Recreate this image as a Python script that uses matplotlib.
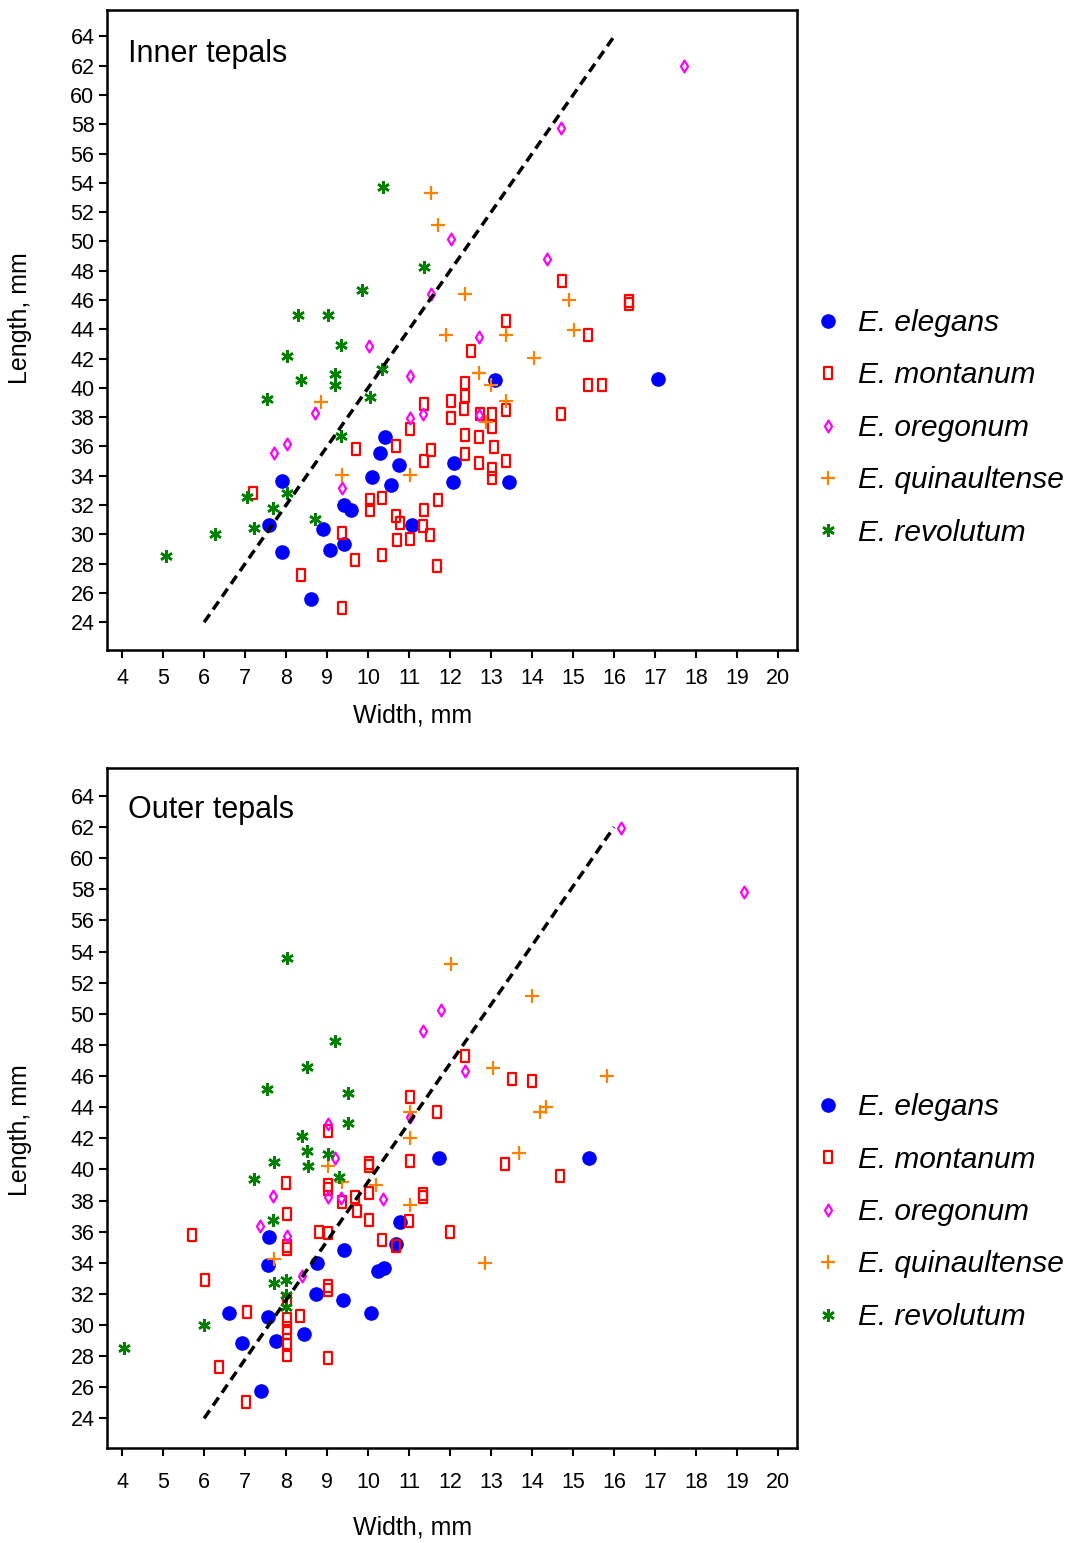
import numpy as np
import matplotlib.pyplot as plt
from matplotlib.path import Path

# ---- inner tepals (width, length) ----
in_elegans_x = [10.41, 10.28, 12.09, 10.75, 10.1, 10.57, 12.07, 7.9, 9.42, 9.59, 7.59, 8.91, 11.07, 9.42, 9.08, 7.9, 8.6, 13.1, 17.08, 13.44]
in_elegans_y = [36.65, 35.56, 34.87, 34.72, 33.92, 33.4, 33.58, 33.62, 32.03, 31.64, 30.67, 30.37, 30.67, 29.37, 28.96, 28.8, 25.62, 40.57, 40.61, 33.58]

in_montanum_x = [14.72, 16.37, 16.37, 13.37, 15.36, 12.51, 12.37, 12.37, 15.36, 15.71, 11.37, 12.03, 12.03, 12.35, 13.37, 14.71, 12.72, 13.03, 11.01, 13.03,
                 12.37, 12.71, 10.69, 13.06, 9.71, 11.54, 12.37, 11.37, 12.7, 13.37, 13.03, 13.03, 7.19, 10.05, 10.05, 10.35, 11.71, 11.37, 10.69, 10.79,
                 11.34, 11.52, 9.37, 10.71, 11.02, 9.69, 10.35, 11.69, 8.37, 9.37]
in_montanum_y = [47.3, 45.9, 45.7, 44.6, 43.64, 42.5, 40.34, 39.43, 40.23, 40.23, 38.93, 39.1, 37.97, 38.58, 38.52, 38.25, 38.2, 38.25, 37.17, 37.33,
                 36.81, 36.65, 36.04, 35.97, 35.86, 35.79, 35.51, 34.99, 34.9, 34.99, 34.44, 33.88, 32.83, 32.37, 31.69, 32.46, 32.33, 31.69, 31.24, 30.8,
                 30.57, 29.94, 30.12, 29.6, 29.66, 28.23, 28.57, 27.84, 27.2, 24.94]

in_oregonum_x = [17.71, 14.71, 12.02, 11.54, 14.37, 10.03, 11.01, 12.71, 8.71, 11.02, 11.33, 12.71, 8.03, 7.71, 9.37]
in_oregonum_y = [61.95, 57.77, 50.2, 46.4, 48.78, 42.84, 40.84, 43.47, 38.29, 37.97, 38.2, 38.13, 36.2, 35.58, 33.17]

in_quin_x = [11.54, 11.71, 12.37, 14.89, 11.89, 13.37, 15.02, 14.04, 12.71, 12.99, 13.37, 8.85, 12.87, 11.01, 9.36]
in_quin_y = [53.3, 51.1, 46.4, 45.98, 43.6, 43.6, 43.98, 42.04, 41.02, 40.18, 39.1, 39.04, 37.67, 34.03, 34.03]

in_revol_x = [10.37, 11.37, 9.85, 8.28, 9.02, 9.35, 8.03, 9.2, 9.2, 10.34, 8.37, 10.05, 7.54, 9.35, 7.05, 8.01, 7.68, 7.21, 8.71, 6.26, 5.06]
in_revol_y = [53.7, 48.25, 46.7, 45.0, 45.0, 42.95, 42.16, 40.97, 40.18, 41.3, 40.52, 39.38, 39.27, 36.7, 32.55, 32.83, 31.83, 30.46, 31.08, 30.0, 28.53]

in_line_x = [6, 16]
in_line_y = [24, 64]

# ---- outer tepals ----
out_elegans_x = [10.79, 11.74, 15.39, 7.59, 10.67, 9.41, 7.57, 8.75, 10.25, 10.39, 8.73, 9.39, 6.6, 7.57, 10.08, 6.93, 7.76, 8.43, 7.39]
out_elegans_y = [36.61, 40.71, 40.71, 35.65, 35.2, 34.79, 33.87, 33.98, 33.44, 33.66, 32.01, 31.63, 30.78, 30.52, 30.78, 28.85, 28.96, 29.45, 25.75]

out_montanum_x = [12.36, 13.51, 14.0, 11.01, 11.68, 11.01, 13.34, 14.67, 11.33, 11.33, 11.0, 12.0, 9.03, 10.02, 10.02, 8.0, 9.01, 9.01, 10.02, 9.36,
                  9.69, 9.72, 8.02, 10.02, 5.7, 8.79, 9.02, 8.02, 8.02, 10.35, 10.67, 9.02, 9.02, 8.02, 7.05, 8.35, 8.01, 8.01, 8.01, 8.02,
                  8.02, 9.03, 6.37, 7.02, 6.03]
out_montanum_y = [47.29, 45.81, 45.67, 44.64, 43.66, 40.52, 40.35, 39.6, 38.2, 38.4, 36.71, 36.01, 42.48, 40.4, 40.2, 39.13, 39.0, 38.74, 38.49, 37.93,
                  38.21, 37.31, 37.14, 36.78, 35.81, 36.01, 35.92, 35.11, 34.9, 35.49, 35.11, 32.48, 32.27, 31.58, 30.84, 30.58, 30.37, 29.8, 29.5, 28.7,
                  28.06, 27.85, 27.31, 25.07, 32.87]

out_oregonum_x = [16.16, 19.17, 11.78, 11.35, 12.36, 11.01, 9.01, 9.2, 7.68, 9.02, 9.34, 10.36, 7.36, 8.02, 8.38]
out_oregonum_y = [61.95, 57.85, 50.24, 48.87, 46.35, 43.4, 42.91, 40.75, 38.31, 38.21, 38.17, 38.1, 36.39, 35.75, 33.15]

out_quin_x = [12.01, 13.99, 13.04, 15.82, 11.01, 14.34, 14.2, 11.03, 13.67, 9.02, 9.37, 10.19, 11.03, 7.71, 12.86]
out_quin_y = [53.19, 51.12, 46.5, 46.03, 43.66, 43.98, 43.66, 41.99, 41.03, 40.2, 39.17, 39.0, 37.72, 34.26, 33.98]

out_revol_x = [8.02, 9.19, 8.51, 7.54, 9.52, 9.51, 8.38, 8.51, 8.54, 9.02, 7.71, 7.21, 9.28, 7.67, 7.71, 8.0, 8.0, 8.0, 6.0, 4.04]
out_revol_y = [53.6, 48.23, 46.6, 45.15, 44.94, 42.96, 42.16, 41.2, 40.24, 40.99, 40.45, 39.38, 39.49, 36.78, 32.7, 32.87, 31.9, 31.16, 29.98, 28.53]

out_line_x = [6, 16]
out_line_y = [24, 62]

species = ["E. elegans", "E. montanum", "E. oregonum", "E. quinaultense", "E. revolutum"]
xticks = list(range(4, 21))
yticks = list(range(24, 65, 2))

# tall rectangle and narrow diamond markers
rect = Path([(-0.37, -0.5), (0.37, -0.5), (0.37, 0.5), (-0.37, 0.5), (-0.37, -0.5)],
            [Path.MOVETO, Path.LINETO, Path.LINETO, Path.LINETO, Path.CLOSEPOLY])
diam = Path([(0, -0.5), (0.3, 0), (0, 0.5), (-0.3, 0), (0, -0.5)],
            [Path.MOVETO, Path.LINETO, Path.LINETO, Path.LINETO, Path.CLOSEPOLY])

plt.rcParams['font.family'] = ['Liberation Sans', 'DejaVu Sans']

fig = plt.figure(figsize=(10.73, 15.43), dpi=100)
ax1 = fig.add_axes([0.0997, 0.5787, 0.643, 0.4148])
ax2 = fig.add_axes([0.0997, 0.0616, 0.643, 0.4407])


def draw(ax, title, title_y, data, line, xpad, xlab_y, ylab_y):
    styles = [
        dict(marker="o", color="#0000FF", markersize=9.5, linestyle="none"),
        dict(marker=rect, markerfacecolor="none", markeredgecolor="#FF0000", markeredgewidth=1.6, markersize=8.5, linestyle="none"),
        dict(marker=diam, markerfacecolor="none", markeredgecolor="#FF00FF", markeredgewidth=1.6, markersize=8.5, linestyle="none"),
        dict(marker="+", color="#FF8000", markeredgewidth=1.6, markersize=9.5, linestyle="none"),
        dict(marker=(6, 2, 0), color="#008000", markeredgewidth=1.8, markersize=9, linestyle="none"),
    ]
    handles = []
    for (x, y), st, name in zip(data, styles, species):
        h, = ax.plot(x, y, label=name, **st)
        handles.append(h)
    ax.plot(line[0], line[1], color="black", linestyle=(0, (2.8, 1.7)), linewidth=2.5)
    ax.set_xlim(3.63, 20.46)
    ax.set_ylim(22.1, 65.8)
    ax.set_xticks(xticks)
    ax.set_yticks(yticks)
    ax.tick_params(direction="out", length=6, width=1.5, labelsize=15.5)
    ax.tick_params(axis="x", pad=xpad)
    ax.tick_params(axis="y", pad=3)
    for s in ax.spines.values():
        s.set_linewidth(1.8)
    ax.set_xlabel("Width, mm", fontsize=18)
    ax.set_ylabel("Length, mm", fontsize=18)
    ax.xaxis.set_label_coords(0.443, xlab_y)
    ax.yaxis.set_label_coords(-0.109, ylab_y)
    ax.text(0.03, title_y, title, transform=ax.transAxes, fontsize=22, va="baseline", ha="left")
    ax.legend(handles=handles, loc="center left", bbox_to_anchor=(1.006, 0.347), frameon=False,
              prop={"size": 21.5, "style": "italic"}, handletextpad=0.5, labelspacing=0.82,
              handlelength=1.0, borderaxespad=0.0)


draw(ax1, "Inner tepals", 0.919,
     [(in_elegans_x, in_elegans_y), (in_montanum_x, in_montanum_y), (in_oregonum_x, in_oregonum_y),
      (in_quin_x, in_quin_y), (in_revol_x, in_revol_y)],
     (in_line_x, in_line_y), 6.8, -0.083, 0.519)
draw(ax2, "Outer tepals", 0.926,
     [(out_elegans_x, out_elegans_y), (out_montanum_x, out_montanum_y), (out_oregonum_x, out_oregonum_y),
      (out_quin_x, out_quin_y), (out_revol_x, out_revol_y)],
     (out_line_x, out_line_y), 11.0, -0.100, 0.468)

fig.savefig("out.png", dpi=100)
